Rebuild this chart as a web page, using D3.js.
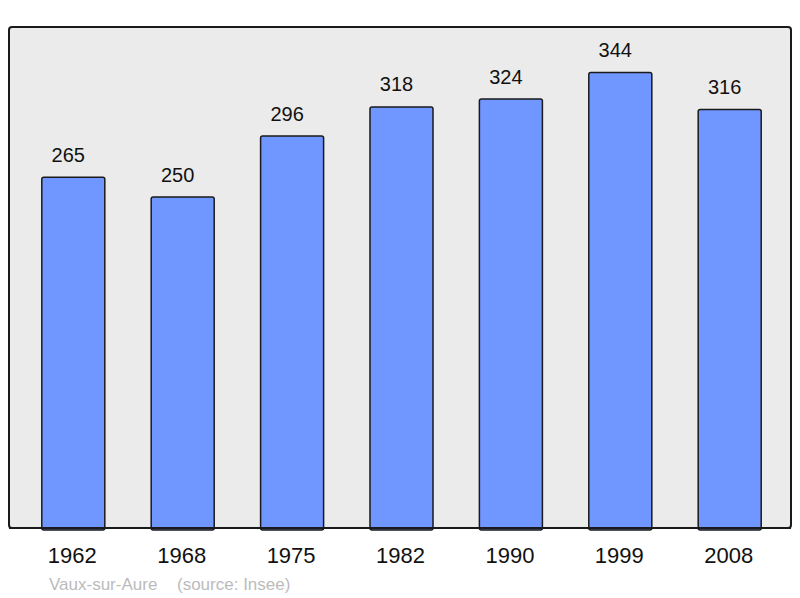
<!DOCTYPE html>
<html><head><meta charset="utf-8">
<script src="https://cdn.jsdelivr.net/npm/d3@7"></script>
<style>html,body{margin:0;padding:0;background:#fff;}svg{display:block;}</style>
</head><body>
<svg id="c" width="800" height="598"></svg>
<script>
const years = ["1962","1968","1975","1982","1990","1999","2008"];
const population = [265,250,296,318,324,344,316];
const townName = "Vaux-sur-Aure";
const sourceText = "(source: Insee)";

const svg = d3.select("#c");
const font = "'Liberation Sans', Arial, sans-serif";
const plot = {x0: 9, x1: 791, y0: 27, y1: 528};

svg.append("rect").attr("x", plot.x0).attr("y", plot.y0)
  .attr("width", plot.x1 - plot.x0).attr("height", plot.y1 - plot.y0)
  .attr("rx", 3).attr("fill", "#ebebeb").attr("stroke", "#1a1a1a").attr("stroke-width", 2);

const x = d3.scaleBand().domain(years).range([18.6, 784.4]).paddingInner(0.424).paddingOuter(0.212);
const y = d3.scaleLinear().domain([0, 378.4]).range([plot.y1, plot.y0]);

const data = years.map((yr, i) => ({yr, v: population[i]}));

svg.selectAll("rect.bar").data(data).enter().append("rect").attr("class", "bar")
  .attr("x", d => x(d.yr)).attr("y", d => y(d.v))
  .attr("width", x.bandwidth()).attr("height", d => y(0) - y(d.v) + 2)
  .attr("rx", 2).attr("fill", "#7096ff").attr("stroke", "#1a1a1a").attr("stroke-width", 1.5);

svg.append("line").attr("x1", plot.x0).attr("x2", plot.x1).attr("y1", plot.y1).attr("y2", plot.y1)
  .attr("stroke", "#1a1a1a").attr("stroke-width", 2);

svg.selectAll("text.val").data(data).enter().append("text").attr("class", "val")
  .attr("x", d => x(d.yr) + x.bandwidth() / 2 - 5).attr("y", d => y(d.v) - 15.5)
  .attr("text-anchor", "middle").attr("font-family", font).attr("font-size", 20)
  .attr("fill", "#111").text(d => d.v);

const xAxis = d3.axisBottom(x).tickSize(0).tickPadding(0);
const ax = svg.append("g").attr("transform", `translate(0,${plot.y1})`).call(xAxis);
ax.select(".domain").remove();
ax.selectAll("text").attr("dy", null).attr("y", 35).attr("x", -1).attr("font-family", font)
  .attr("font-size", 22).attr("fill", "#111");

svg.append("text").attr("x", 49).attr("y", 590).attr("font-family", font)
  .attr("font-size", 17).attr("fill", "#bbbbbb").text(townName);
svg.append("text").attr("x", 177).attr("y", 590).attr("font-family", font)
  .attr("font-size", 17).attr("fill", "#bbbbbb").text(sourceText);
</script>
</body></html>
